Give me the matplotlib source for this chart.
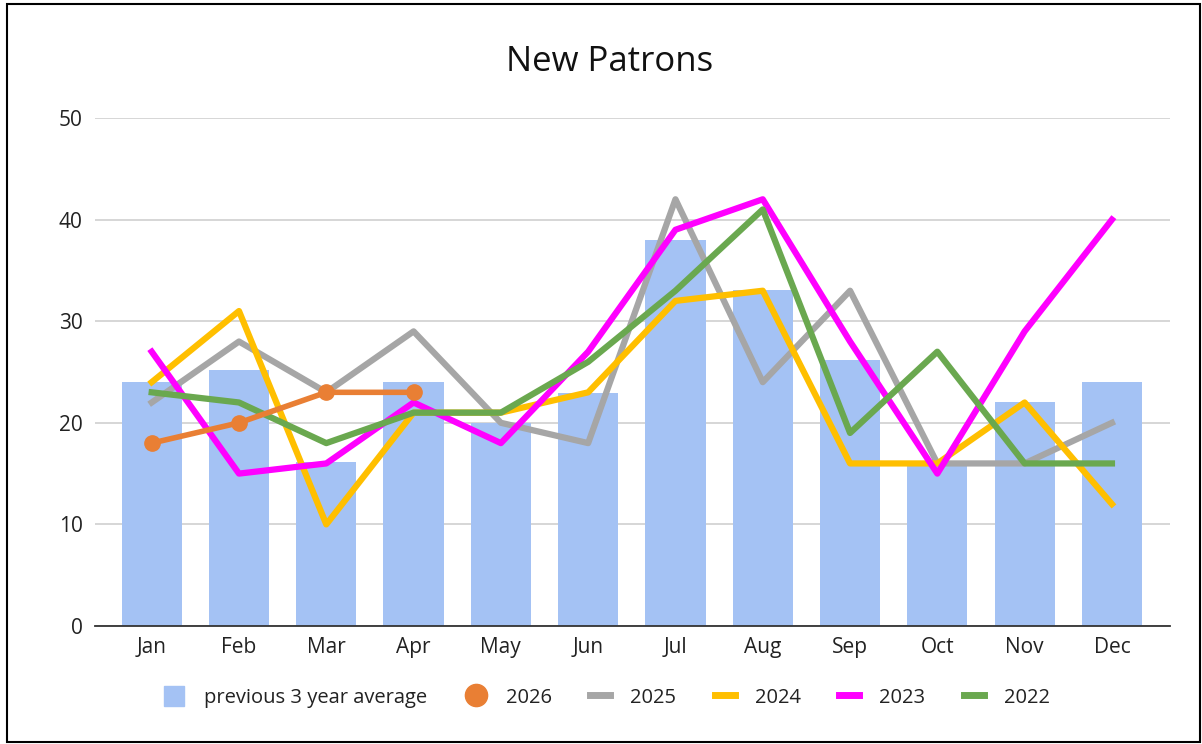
import matplotlib
matplotlib.use("Agg")
import matplotlib.pyplot as plt
from matplotlib.patches import Rectangle
from matplotlib.lines import Line2D

plt.rcParams['font.family'] = ['Open Sans', 'DejaVu Sans']

months = ["Jan", "Feb", "Mar", "Apr", "May", "Jun", "Jul", "Aug", "Sep", "Oct", "Nov", "Dec"]
avg3 = [24, 25.2, 16.1, 24, 20, 22.9, 38, 33.1, 26.2, 16, 22, 24]
y2026 = [18, 20, 23, 23]
y2025 = [22, 28, 23, 29, 20, 18, 42, 24, 33, 16, 16, 20]
y2024 = [24, 31, 10, 21, 21, 23, 32, 33, 16, 16, 22, 12]
y2023 = [27, 15, 16, 22, 18, 27, 39, 42, 28, 15, 29, 40]
y2022 = [23, 22, 18, 21, 21, 26, 33, 41, 19, 27, 16, 16]

c_bar = "#a4c2f4"
c_2026 = "#e97f34"
c_2025 = "#a6a6a6"
c_2024 = "#ffbf00"
c_2023 = "#ff00ff"
c_2022 = "#6aa84f"

fig = plt.figure(figsize=(12.02, 7.44), dpi=100)
ax = fig.add_axes([0.079, 0.1586, 0.894, 0.6828])

x = list(range(len(months)))
ax.bar(x, avg3, width=0.69, color=c_bar, zorder=2)
lw = 4.5
ax.plot(x, y2025, color=c_2025, lw=lw, zorder=3)
ax.plot(x, y2024, color=c_2024, lw=lw, zorder=4)
ax.plot(x, y2023, color=c_2023, lw=lw, zorder=5)
ax.plot(x, y2022, color=c_2022, lw=lw, zorder=6)
ax.plot(x[:len(y2026)], y2026, color=c_2026, lw=4, marker='o', ms=11, zorder=7)

ax.set_xlim(-0.65, 11.66)
ax.set_ylim(0, 50)
ax.set_yticks([0, 10, 20, 30, 40, 50])
ax.set_xticks(x)
ax.set_xticklabels(months)
ax.tick_params(axis='both', length=0, labelsize=15, colors='#222222')
ax.tick_params(axis='x', pad=8)
ax.tick_params(axis='y', pad=9)
ax.grid(axis='y', color='#d0d0d0', lw=1.2, zorder=0)
ax.set_axisbelow(True)
for s in ['top', 'right', 'left']:
    ax.spines[s].set_visible(False)
ax.spines['bottom'].set_color('#333333')
ax.spines['bottom'].set_linewidth(1.3)
ax.spines['bottom'].set_zorder(8)

fig.text(0.507, 0.917, "New Patrons", ha='center', va='center', fontsize=25, color='#111111')

handles = [
    Rectangle((0, 0), 1, 1, color=c_bar),
    Line2D([], [], color=c_2026, marker='o', ms=16, lw=0),
    Line2D([], [], color=c_2025, lw=5),
    Line2D([], [], color=c_2024, lw=5),
    Line2D([], [], color=c_2023, lw=5),
    Line2D([], [], color=c_2022, lw=5),
]
labels = ["previous 3 year average", "2026", "2025", "2024", "2023", "2022"]
fig.legend(handles, labels, loc='center', bbox_to_anchor=(0.505, 0.063), ncol=6,
           frameon=False, fontsize=14.5, handlelength=1.0, handleheight=1.1,
           columnspacing=1.9, handletextpad=1.0, labelcolor='#222222')

fig.add_artist(Rectangle((0.006, 0.003), 0.992, 0.991, transform=fig.transFigure,
                         fill=False, edgecolor='black', lw=1.5))

fig.savefig("out.png", dpi=100)
